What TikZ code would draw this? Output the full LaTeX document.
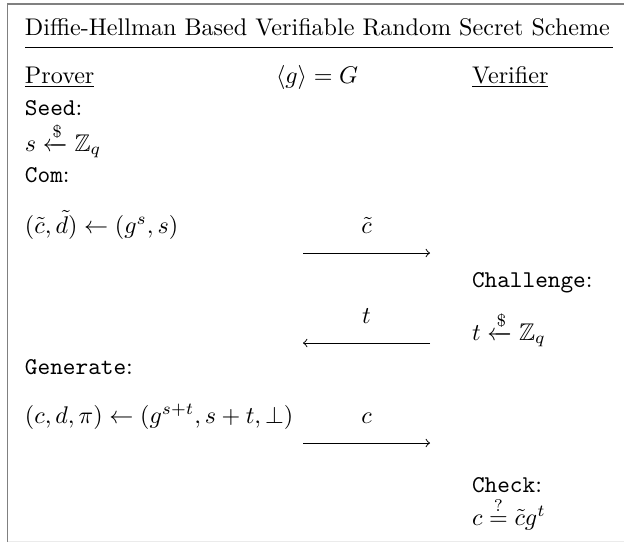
\documentclass[tikz,border=0pt]{standalone}
\usepackage{amsmath,amssymb}
\begin{document}
\begin{tikzpicture}[x=0.415pt,y=-0.415pt,
  txt/.style={anchor=base west,inner sep=0pt,outer sep=0pt},
  msglabel/.style={above=8pt,inner sep=0pt},
  msg/.style={->,line width=0.4pt}]
\useasboundingbox (0,0) rectangle (624,542);
% frame
\draw[gray,line width=0.8pt] (7.5,542) -- (7.5,4) -- (624,4);
\draw[black!8,line width=0.4pt] (7.5,541) -- (624,541);
% title
\node[txt] (title) at (25,35) {Diffie-Hellman Based Verifiable Random Secret Scheme};
\draw[line width=0.4pt] (25,47) -- (613,47);
% headers
\node[txt] (prover) at (25,83) {\underline{Prover}};
\node[txt] (group) at (276,83) {$\langle g\rangle = G$};
\node[txt] (verifier) at (472,83) {\underline{Verifier}};
% prover
\node[txt] (seed) at (25,115) {\texttt{Seed}:};
\node[txt] (s) at (25,151) {$s \xleftarrow{\$} \mathbb{Z}_q$};
\node[txt] (com) at (25,182) {\texttt{Com}:};
\node[txt] (cd) at (25,233) {$(\tilde{c},\tilde{d}) \leftarrow (g^s, s)$};
\node[txt] (gen) at (25,374) {\texttt{Generate}:};
\node[txt] (cdp) at (25,423) {$(c,d,\pi) \leftarrow (g^{s+t}, s+t, \bot)$};
% verifier
\node[txt] (chal) at (472,287) {\texttt{Challenge}:};
\node[txt] (t) at (472,340) {$t \xleftarrow{\$} \mathbb{Z}_q$};
\node[txt] (check) at (472,492) {\texttt{Check}:};
\node[txt] (eq) at (472,525) {$c \overset{?}{=} \tilde{c} g^t$};
% messages
\coordinate (a1) at (303,253); \coordinate (b1) at (430,253);
\draw[msg] (a1) -- node[msglabel] (l1) {$\tilde{c}$} (b1);
\coordinate (a2) at (303,343); \coordinate (b2) at (430,343);
\draw[msg] (b2) -- node[msglabel] (l2) {$t$} (a2);
\coordinate (a3) at (303,443); \coordinate (b3) at (430,443);
\draw[msg] (a3) -- node[msglabel] (l3) {$c$} (b3);
\end{tikzpicture}
\end{document}
